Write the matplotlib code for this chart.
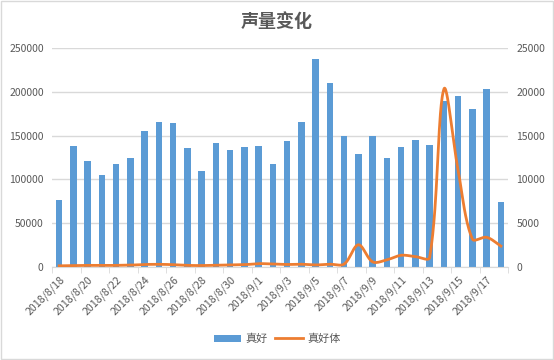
import numpy as np
import matplotlib
matplotlib.use("Agg")
import matplotlib.pyplot as plt
from matplotlib.patches import Rectangle

plt.rcParams['font.family'] = ['Noto Sans CJK SC', 'DejaVu Sans']

dates = ['2018/8/18', '2018/8/19', '2018/8/20', '2018/8/21', '2018/8/22', '2018/8/23',
         '2018/8/24', '2018/8/25', '2018/8/26', '2018/8/27', '2018/8/28', '2018/8/29',
         '2018/8/30', '2018/8/31', '2018/9/1', '2018/9/2', '2018/9/3', '2018/9/4',
         '2018/9/5', '2018/9/6', '2018/9/7', '2018/9/8', '2018/9/9', '2018/9/10',
         '2018/9/11', '2018/9/12', '2018/9/13', '2018/9/14', '2018/9/15', '2018/9/16',
         '2018/9/17', '2018/9/18']
zhenhao = [77000, 138500, 120500, 104500, 117500, 124500, 155500, 165000, 164000,
           135500, 110000, 141500, 133500, 136500, 138500, 117500, 144000, 166000,
           237000, 210500, 150000, 129000, 149000, 124000, 136500, 145500, 139500,
           189500, 195000, 180000, 203500, 74000]
zhenhaoti = [150, 180, 200, 180, 200, 230, 300, 320, 280, 200, 180, 220, 250, 280,
             400, 350, 300, 330, 250, 330, 350, 2550, 600, 830, 1350, 1200, 1100,
             20300, 11000, 3200, 3400, 2400]

bar_color = '#5B9BD5'
line_color = '#ED7D31'
text_color = '#595959'
grid_color = '#D9D9D9'

fig = plt.figure(figsize=(5.54, 3.6), dpi=100)
fig.patches.append(Rectangle((0.0015, 0.002), 0.997, 0.996, transform=fig.transFigure,
                             fill=False, edgecolor='#D9D9D9', linewidth=1))
ax = fig.add_axes([0.094, 0.258, 0.823, 0.609])
x = np.arange(len(dates))
ax.bar(x, zhenhao, width=0.45, color=bar_color, zorder=2, label='真好')
ax.set_ylim(0, 250000)
ax.set_xlim(-0.5, len(dates) - 0.5)
ax.set_yticks(np.arange(0, 250001, 50000))
ax.yaxis.grid(True, color=grid_color, linewidth=1)
ax.set_axisbelow(True)
for s in ['top', 'right', 'left']:
    ax.spines[s].set_visible(False)
ax.spines['bottom'].set_color(grid_color)
ax.tick_params(axis='y', length=0, labelsize=7.5, labelcolor=text_color, pad=6)
ax.set_xticks(x[::2])
ax.set_xticklabels(dates[::2], rotation=45, ha='right', rotation_mode='anchor',
                   fontsize=7.7, color=text_color)
ax.tick_params(axis='x', length=0, pad=5)
ax.set_xticks(np.arange(-0.5, len(dates), 2), minor=True)
ax.tick_params(axis='x', which='minor', length=4, color=grid_color)

ax2 = ax.twinx()
ax2.set_ylim(0, 25000)
ax2.set_yticks(np.arange(0, 25001, 5000))
for s in ax2.spines.values():
    s.set_visible(False)
ax2.tick_params(axis='y', length=0, labelsize=7.5, labelcolor=text_color, pad=6)

# Chord-weighted Bezier smoothing (Excel-like smoothed line), computed in pixel space
XS, YS = 14.25, 8.8 / 1000.0


def smooth(xs, ys, n=30, tension=1 / 3):
    P = np.column_stack([np.asarray(xs, float) * XS, np.asarray(ys, float) * YS])
    P = np.vstack([P[0], P, P[-1]])
    out = []
    t = np.linspace(0, 1, n, endpoint=False)[:, None]
    for i in range(1, len(P) - 2):
        p0, p1, p2, p3 = P[i - 1], P[i], P[i + 1], P[i + 2]
        d01 = np.linalg.norm(p1 - p0); d12 = np.linalg.norm(p2 - p1); d23 = np.linalg.norm(p3 - p2)
        f1 = d12 / (d01 + d12) if d01 + d12 > 0 else 0
        f2 = d12 / (d12 + d23) if d12 + d23 > 0 else 0
        c1 = p1 + tension * f1 * (p2 - p0)
        c2 = p2 - tension * f2 * (p3 - p1)
        b = (1 - t) ** 3 * p1 + 3 * (1 - t) ** 2 * t * c1 + 3 * (1 - t) * t ** 2 * c2 + t ** 3 * p2
        out.append(b)
    out.append(P[-2][None, :])
    out = np.vstack(out)
    return out[:, 0] / XS, out[:, 1] / YS


sx, sy = smooth(x, zhenhaoti)
ax2.plot(sx, sy, color=line_color, linewidth=2, label='真好体', zorder=3)

fig.text(0.5, 0.94, '声量变化', ha='center', va='center', fontsize=13,
         fontweight='bold', color=text_color)

h1, l1 = ax.get_legend_handles_labels()
h2, l2 = ax2.get_legend_handles_labels()
fig.legend(h1 + h2, l1 + l2, loc='center', bbox_to_anchor=(0.5, 0.058), ncol=2,
           frameon=False, fontsize=8, labelcolor=text_color, handlelength=2.5,
           columnspacing=0.6, handletextpad=0.4)

fig.savefig('out.png', dpi=100)
